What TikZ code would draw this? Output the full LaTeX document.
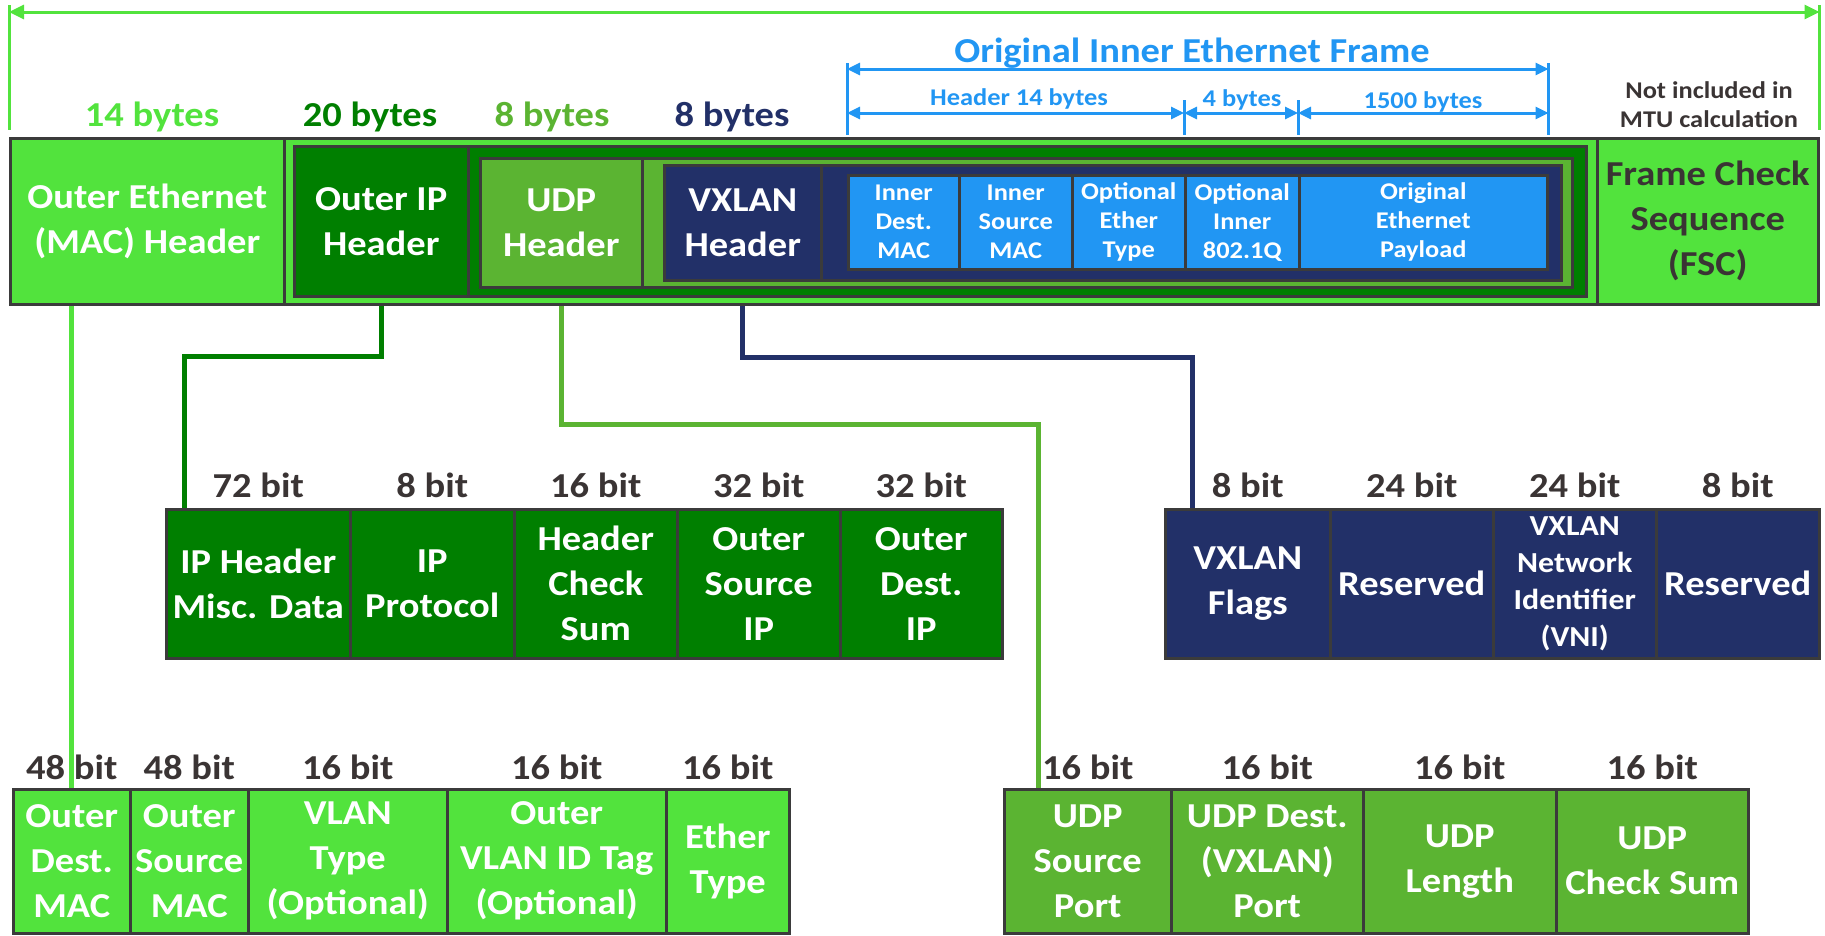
\documentclass[tikz,border=0pt]{standalone}
\usepackage{fontspec}
\setmainfont[FakeStretch=1.1]{Carlito}
\definecolor{ink}{HTML}{3A3434}
\definecolor{rim}{HTML}{3B3B3B}
\definecolor{ethgreen}{HTML}{52E33D}
\definecolor{ipgreen}{HTML}{007F00}
\definecolor{udpgreen}{HTML}{5BB432}
\definecolor{vxnavy}{HTML}{223068}
\definecolor{innerblue}{HTML}{2196F3}
\newcommand{\figfont}{\fontsize{35}{45}\selectfont\bfseries}
\newcommand{\tinyfont}{\fontsize{24}{29}\selectfont\bfseries}
\newcommand{\vnifont}{\fontsize{29}{37}\selectfont\bfseries}
\tikzset{
  every picture/.style = {font=\figfont, line join=miter},
  field/.style = {draw=rim, line width=2.5pt, anchor=north west, inner sep=0pt,
                  align=center, text=white},
  bits/.style  = {text=ink, anchor=base},
  wire/.style  = {line width=5pt},
  dim/.style   = {line width=3pt},
}
\usetikzlibrary{arrows.meta, backgrounds}

\begin{document}
\begin{tikzpicture}[x=1pt, y=-1pt]
  % pixel grid of the original: x to the right, y downwards
  \useasboundingbox (0,0) rectangle (1825,935);
  \tikzset{
    mtuspan/.style = {dim, ethgreen, {Triangle[length=15pt, width=14pt]}-{Triangle[length=15pt, width=14pt]}},
    oiespan/.style = {dim, innerblue, {Triangle[length=13pt, width=12pt]}-{Triangle[length=13pt, width=12pt]}},
  }

  % --- encapsulated frame, drawn outside in ------------------------------------
  \node[field, fill=ethgreen, minimum width=1808pt, minimum height=166pt] (frame) at (9,137) {};
  \node[field, fill=ethgreen, minimum width=274pt, minimum height=166pt] (ethhdr) at (9,137)
    {Outer Ethernet\\(MAC) Header};
  \node[field, fill=ethgreen, text=ink, minimum width=221pt, minimum height=166pt] (fcs) at (1596,137)
    {Frame Check\\Sequence\\(FSC)};
  \node[field, fill=ipgreen, minimum width=1292pt, minimum height=150pt] (ipband) at (293,145) {};
  \node[field, fill=ipgreen, minimum width=174pt, minimum height=150pt] (iphdr) at (293,145)
    {Outer IP\\Header};
  \node[field, fill=udpgreen, minimum width=1092pt, minimum height=129pt] (udpband) at (479,157) {};
  \node[field, fill=udpgreen, minimum width=162pt, minimum height=129pt] (udphdr) at (479,157)
    {UDP\\Header};
  \node[field, fill=vxnavy, minimum width=897pt, minimum height=115pt] (vxband) at (663,164) {};
  \node[field, fill=vxnavy, minimum width=157pt, minimum height=115pt] (vxhdr) at (663,164)
    {VXLAN\\Header};
  % inner (original) ethernet frame
  \foreach \i/\xa/\xb/\txt [evaluate=\xb as \w using \xb-\xa] in {
      1/847/958/{Inner\\Dest.\\MAC}, 2/958/1071/{Inner\\Source\\MAC},
      3/1071/1184/{Optional\\Ether\\Type}, 4/1184/1298/{Optional\\Inner\\802.1Q},
      5/1298/1546/{Original\\Ethernet\\Payload}}
    \node[field, fill=innerblue, font=\tinyfont, minimum width=\w pt, minimum height=94pt] (in\i) at (\xa,174) {\txt};

  % header sizes
  \node[anchor=base, text=ethgreen] (ethbytes) at (152,126) {14 bytes};
  \node[anchor=base, text=ipgreen]  (ipbytes)  at (370,126) {20 bytes};
  \node[anchor=base, text=udpgreen] (udpbytes) at (552,126) {8 bytes};
  \node[anchor=base, text=vxnavy]   (vxbytes)  at (732,126) {8 bytes};

  % --- MTU span (green) ---------------------------------------------------------
  \coordinate (mtutop) at (0,5);
  \coordinate (mturow) at (0,12);
  \coordinate (mtufoot) at (0,130);
  \draw[dim, ethgreen] (frame.north west |- mtutop) -- (frame.north west |- mtufoot);
  \draw[dim, ethgreen] (frame.north east |- mtutop) -- (frame.north east |- mtufoot);
  \draw[mtuspan] (frame.north west |- mturow) -- (frame.north east |- mturow);
  \node[anchor=center, font=\tinyfont, text=ink, align=center] (nomtu) at (1709,105)
    {Not included in\\MTU calculation};

  % --- original inner frame spans (blue) ---------------------------------------
  \coordinate (oietop) at (0,63);
  \coordinate (oierow) at (0,69);
  \coordinate (subtop) at (0,100);
  \coordinate (subrow) at (0,113);
  \coordinate (dimfoot) at (0,135);
  \draw[dim, innerblue] (in1.north west |- oietop) -- (in1.north west |- dimfoot);
  \draw[dim, innerblue] (in5.north east |- oietop) -- (in5.north east |- dimfoot);
  \draw[dim, innerblue] (in4.north west |- subtop) -- (in4.north west |- dimfoot);
  \draw[dim, innerblue] (in5.north west |- subtop) -- (in5.north west |- dimfoot);
  \draw[oiespan] (in1.north west |- oierow) -- (in5.north east |- oierow);
  \draw[oiespan] (in1.north west |- subrow) -- (in4.north west |- subrow);
  \draw[oiespan] (in4.north west |- subrow) -- (in5.north west |- subrow);
  \draw[oiespan] (in5.north west |- subrow) -- (in5.north east |- subrow);
  \node[anchor=base, text=innerblue] (oietitle) at (1192,62) {Original Inner Ethernet Frame};
  \node[anchor=base, text=innerblue, font=\tinyfont] (hdr14)  at (1019,105) {Header 14 bytes};
  \node[anchor=base, text=innerblue, font=\tinyfont] (tag4)   at (1242,106) {4 bytes};
  \node[anchor=base, text=innerblue, font=\tinyfont] (pay1500) at (1423,108) {1500 bytes};

  % --- outer IP header fields ---------------------------------------------------
  \foreach \i/\xa/\xb/\b/\txt [evaluate=\xb as \w using \xb-\xa] in {
      1/165/349/72 bit/{IP Header\\Misc. Data}, 2/349/513/8 bit/{IP\\Protocol},
      3/513/676/16 bit/{Header\\Check\\Sum}, 4/676/839/32 bit/{Outer\\Source\\IP},
      5/839/1001/32 bit/{Outer\\Dest.\\IP}} {
    \node[field, fill=ipgreen, minimum width=\w pt, minimum height=149pt] (ip\i) at (\xa,508) {\txt};
    \node[bits] (ipbits\i) at ([yshift=11pt]ip\i.north) {\b};
  }

  % --- VXLAN header fields ------------------------------------------------------
  \foreach \i/\xa/\xb/\b/\f/\txt [evaluate=\xb as \w using \xb-\xa] in {
      1/1164/1329/8 bit/\figfont/{VXLAN\\Flags}, 2/1329/1492/24 bit/\figfont/{Reserved},
      3/1492/1655/24 bit/\vnifont/{VXLAN\\Network\\Identifier\\(VNI)},
      4/1655/1818/8 bit/\figfont/{Reserved}} {
    \node[field, fill=vxnavy, font=\f, minimum width=\w pt, minimum height=149pt] (vx\i) at (\xa,508) {\txt};
    \node[bits] (vxbits\i) at ([yshift=11pt]vx\i.north) {\b};
  }

  % --- outer ethernet header fields ---------------------------------------------
  \foreach \i/\xa/\xb/\b/\txt [evaluate=\xb as \w using \xb-\xa] in {
      1/12/129/48 bit/{Outer\\Dest.\\MAC}, 2/129/247/48 bit/{Outer\\Source\\MAC},
      3/247/446/16 bit/{VLAN\\Type\\(Optional)}, 4/446/665/16 bit/{Outer\\VLAN ID Tag\\(Optional)},
      5/665/788/16 bit/{Ether\\Type}} {
    \node[field, fill=ethgreen, minimum width=\w pt, minimum height=144pt] (eth\i) at (\xa,788) {\txt};
    \node[bits] (ethbits\i) at ([yshift=9pt]eth\i.north) {\b};
  }

  % --- UDP header fields --------------------------------------------------------
  \foreach \i/\xa/\xb/\txt [evaluate=\xb as \w using \xb-\xa] in {
      1/1003/1170/{UDP\\Source\\Port}, 2/1170/1362/{UDP Dest.\\(VXLAN)\\Port},
      3/1362/1555/{UDP\\Length}, 4/1555/1747/{UDP\\Check Sum}} {
    \node[field, fill=udpgreen, minimum width=\w pt, minimum height=144pt] (udp\i) at (\xa,788) {\txt};
    \node[bits] (udpbits\i) at ([yshift=9pt]udp\i.north) {16 bit};
  }

  % --- wires from each header down to its field breakdown ----------------------
  \coordinate (ipbend)  at (184,356);
  \coordinate (udpbend) at (1038,424);
  \coordinate (vxbend)  at (1192,357);
  \begin{pgfonlayer}{background}
    \draw[wire, ethgreen] (ethhdr.south -| eth1.north) -- (eth1.north);
    \draw[wire, ipgreen]  (iphdr.south) |- (ipbend) -- (ipbend |- ip1.north);
    \draw[wire, udpgreen] (udphdr.south) |- (udpbend) -- (udpbend |- udp1.north);
    \draw[wire, vxnavy]   (vxhdr.south) |- (vxbend) -- (vxbend |- vx1.north);
  \end{pgfonlayer}
\end{tikzpicture}
\end{document}
